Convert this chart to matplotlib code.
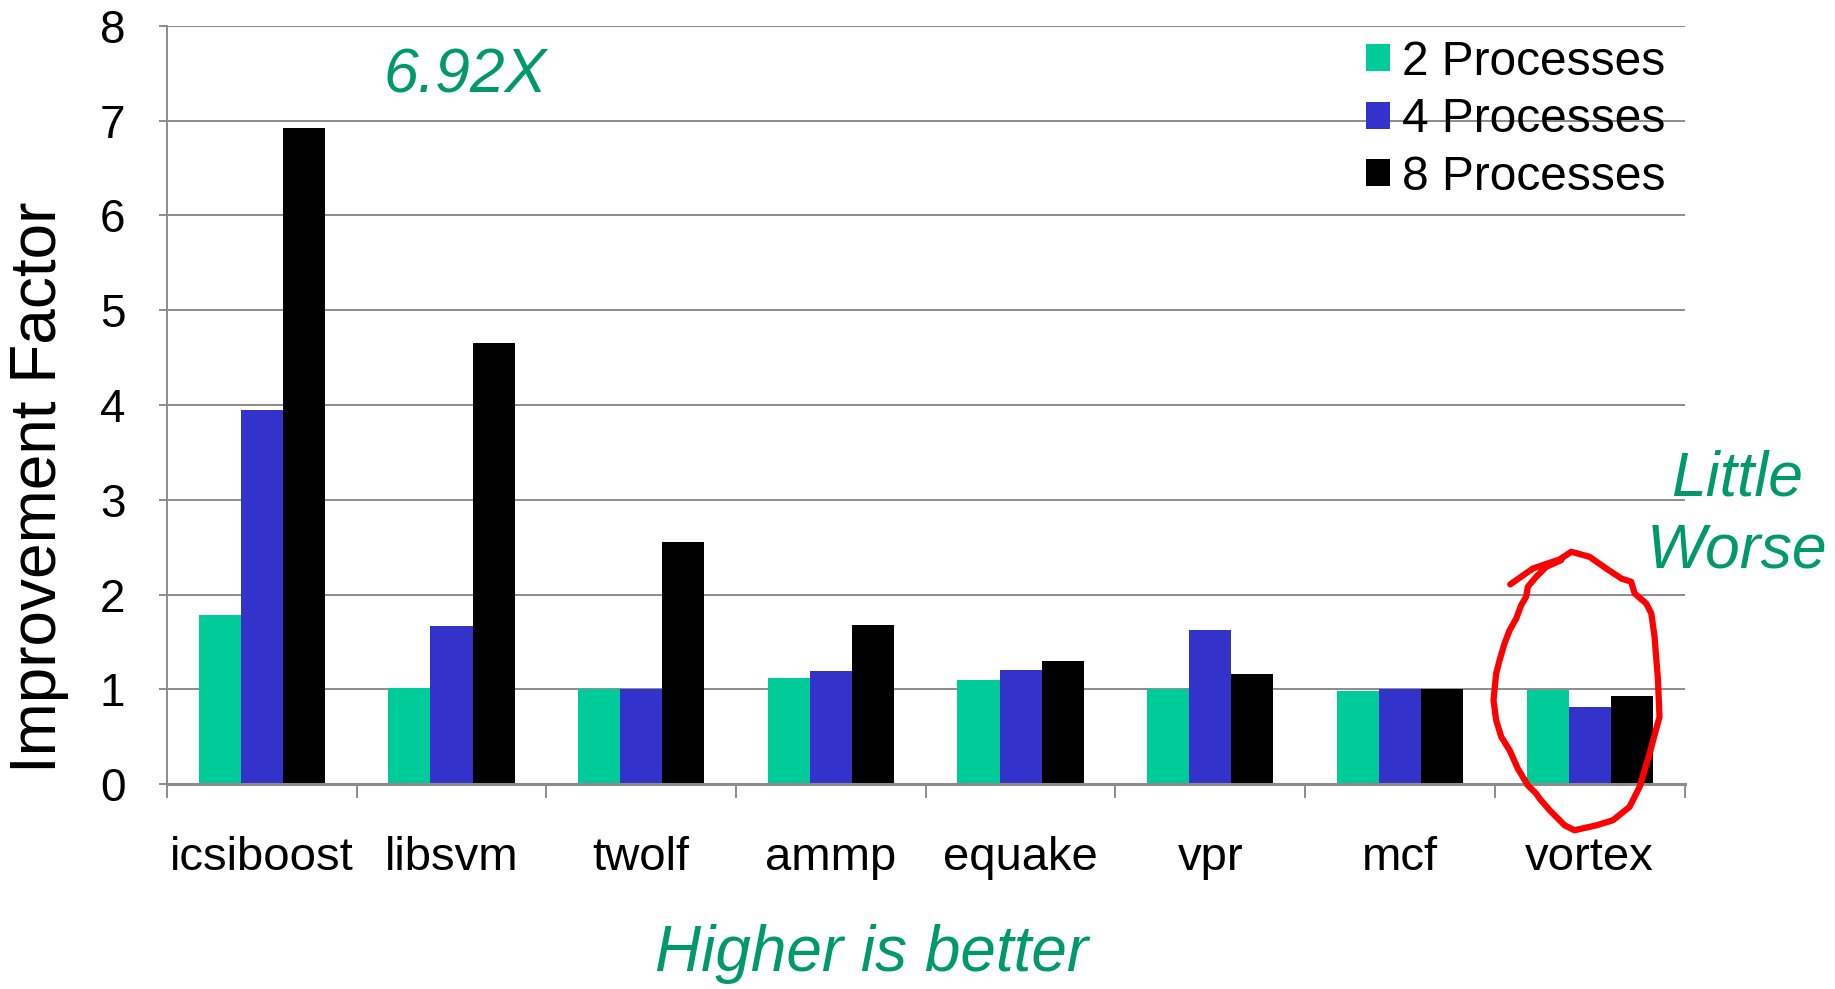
import matplotlib
matplotlib.use("Agg")
import matplotlib.pyplot as plt
import numpy as np

plt.rcParams['font.family'] = ['Liberation Sans', 'DejaVu Sans']

# benchmark results
benchmarks = ['icsiboost', 'libsvm', 'twolf', 'ammp', 'equake', 'vpr', 'mcf', 'vortex']
procs_2 = [1.78, 1.02, 1.00, 1.12, 1.10, 1.01, 0.98, 0.99]
procs_4 = [3.95, 1.67, 1.00, 1.19, 1.20, 1.63, 1.01, 0.82]
procs_8 = [6.92, 4.65, 2.56, 1.68, 1.30, 1.16, 1.01, 0.93]
series_names = ['2 Processes', '4 Processes', '8 Processes']
series_colors = ['#00CC99', '#3333CC', '#000000']

# hand-drawn loop around vortex (data units)
loop_x = [6.581, 6.701, 6.841, 6.903, 6.999, 7.087, 7.166, 7.219, 7.237, 7.298, 7.325,
          7.342, 7.360, 7.368, 7.316, 7.263, 7.210, 7.122, 7.035, 6.920, 6.868, 6.789,
          6.736, 6.718, 6.674, 6.621, 6.578, 6.534, 6.507, 6.493, 6.507, 6.525, 6.551,
          6.578, 6.613, 6.639, 6.665, 6.674, 6.718, 6.771, 6.850]
loop_y = [2.108, 2.276, 2.371, 2.452, 2.399, 2.276, 2.171, 2.135, 2.012, 1.907, 1.801,
          1.555, 1.098, 0.711, 0.324, -0.028, -0.239, -0.380, -0.433, -0.485, -0.433, -0.274,
          -0.151, -0.098, -0.011, 0.166, 0.359, 0.499, 0.675, 0.887, 1.168, 1.309, 1.485,
          1.625, 1.749, 1.889, 1.977, 2.083, 2.188, 2.293, 2.364]

green_text = '#00996B'
grid_gray = '#8C8C8C'

fig = plt.figure(figsize=(18.35, 9.89), dpi=100)
ax = fig.add_axes([0.091, 0.207, 0.827, 0.767])

x = np.arange(len(benchmarks))
w = 0.222
for i, (vals, name, col) in enumerate(zip([procs_2, procs_4, procs_8], series_names, series_colors)):
    ax.bar(x + (i - 1) * w, vals, width=w, color=col, label=name, zorder=3)

ax.set_xlim(-0.5, len(benchmarks) - 0.5)
ax.set_ylim(0, 8)
ax.set_yticks(range(0, 9))
ax.yaxis.grid(True, color=grid_gray, linewidth=1.4, zorder=0)

for s in ['top', 'right']:
    ax.spines[s].set_visible(False)
ax.spines['left'].set_color(grid_gray)
ax.spines['left'].set_linewidth(1.4)
ax.spines['bottom'].set_color(grid_gray)
ax.spines['bottom'].set_linewidth(2.2)
ax.spines['bottom'].set_zorder(4)

ax.set_xticks(x)
ax.set_xticklabels(benchmarks)
ax.set_xticks(np.arange(-0.5, len(benchmarks)), minor=True)
ax.tick_params(axis='x', which='major', length=0, pad=37, labelsize=34)
ax.tick_params(axis='x', which='minor', length=10, width=1.4, color=grid_gray)
ax.tick_params(axis='y', length=6, width=1.4, color=grid_gray, pad=24, labelsize=33)

fig.text(0.021, 0.507, 'Improvement Factor', rotation=90, ha='center', va='center', fontsize=46)

leg = ax.legend(loc='upper right', bbox_to_anchor=(0.994, 0.994), frameon=False, fontsize=34.5,
                handlelength=0.5, handleheight=0.5, handletextpad=0.25, labelspacing=0.26,
                borderaxespad=0.0, borderpad=0.2)

ax.text(465 / 1835, 1 - 76 / 989, '6.92X', transform=fig.transFigure, ha='center', va='center',
        fontsize=45, style='italic', color=green_text)
fig.text(0.475, 1 - 954 / 989, 'Higher is better', ha='center', va='center',
         fontsize=46, style='italic', color=green_text)
fig.text(1737 / 1835, 1 - 515 / 989, 'Little\nWorse', ha='center', va='center', fontsize=45,
         style='italic', color=green_text, linespacing=1.3)

ax.plot(loop_x, loop_y, color='red', linewidth=4.5, clip_on=False, zorder=5,
        solid_joinstyle='round', solid_capstyle='round')

fig.savefig('out.png', dpi=100)
